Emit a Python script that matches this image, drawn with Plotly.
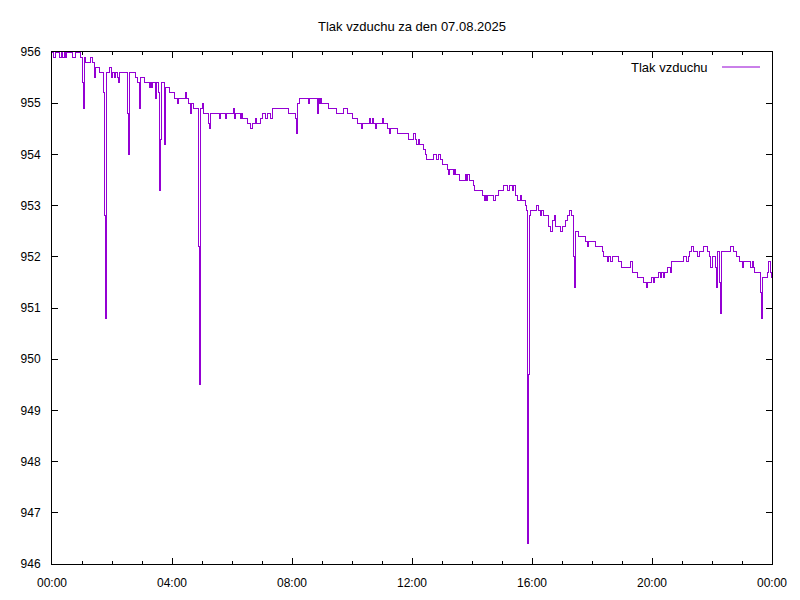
import plotly.graph_objects as go

DAY = "2025-08-07"
times = [
    "00:00", "00:02", "00:06", "00:14", "00:18", "00:20", "00:24", "00:26", "00:28", "00:40",
    "00:46", "00:56", "01:00", "01:02", "01:04", "01:06", "01:16", "01:20", "01:24", "01:26",
    "01:34", "01:42", "01:44", "01:46", "01:48", "01:54", "01:58", "02:00", "02:04", "02:06",
    "02:10", "02:12", "02:14", "02:30", "02:32", "02:34", "02:46", "02:50", "02:54", "02:56",
    "03:04", "03:14", "03:16", "03:18", "03:20", "03:26", "03:28", "03:32", "03:34", "03:36",
    "03:38", "03:44", "03:46", "03:54", "04:04", "04:10", "04:12", "04:26", "04:28", "04:32",
    "04:36", "04:38", "04:42", "04:52", "04:54", "04:56", "05:00", "05:02", "05:12", "05:14",
    "05:16", "05:34", "05:36", "05:46", "05:48", "06:02", "06:04", "06:06", "06:16", "06:18",
    "06:20", "06:30", "06:36", "06:40", "06:46", "06:48", "06:56", "07:00", "07:06", "07:10",
    "07:16", "07:20", "07:52", "08:06", "08:08", "08:10", "08:14", "08:32", "08:34", "08:50",
    "08:52", "08:54", "08:56", "08:58", "09:12", "09:28", "09:42", "09:50", "10:00", "10:10",
    "10:18", "10:20", "10:34", "10:36", "10:40", "10:42", "10:46", "10:48", "11:00", "11:02",
    "11:10", "11:14", "11:16", "11:30", "11:52", "12:02", "12:06", "12:08", "12:12", "12:14",
    "12:22", "12:26", "12:28", "12:42", "12:48", "12:52", "12:56", "13:00", "13:10", "13:12",
    "13:14", "13:22", "13:24", "13:26", "13:34", "13:46", "13:48", "13:50", "13:54", "14:02",
    "14:04", "14:20", "14:24", "14:26", "14:28", "14:30", "14:42", "14:46", "14:52", "15:02",
    "15:10", "15:14", "15:20", "15:22", "15:26", "15:30", "15:36", "15:38", "15:46", "15:48",
    "15:50", "15:52", "15:54", "15:56", "16:08", "16:12", "16:16", "16:18", "16:22", "16:32",
    "16:36", "16:40", "16:44", "16:46", "16:56", "17:00", "17:06", "17:10", "17:14", "17:18",
    "17:22", "17:24", "17:26", "17:32", "17:46", "17:50", "17:52", "18:06", "18:20", "18:22",
    "18:30", "18:32", "18:36", "18:40", "18:52", "18:58", "19:16", "19:20", "19:30", "19:42",
    "19:48", "19:50", "19:58", "20:02", "20:04", "20:12", "20:16", "20:18", "20:22", "20:24",
    "20:30", "20:36", "20:38", "21:02", "21:08", "21:12", "21:14", "21:18", "21:22", "21:30",
    "21:34", "21:42", "21:50", "21:54", "21:56", "22:00", "22:06", "22:08", "22:10", "22:14",
    "22:16", "22:18", "22:36", "22:42", "22:48", "22:54", "23:00", "23:02", "23:16", "23:20",
    "23:22", "23:24", "23:36", "23:38", "23:40", "23:50", "23:52", "23:56", "23:58", "23:59",
]
pressure = [
    956.0, 955.9, 956.0, 955.9, 956.0, 955.9, 956.0, 955.9, 956.0, 955.9,
    956.0, 955.9, 955.4, 954.9, 955.9, 955.8, 955.9, 955.8, 955.5, 955.7,
    955.6, 955.2, 952.8, 950.8, 955.6, 955.7, 955.5, 955.6, 955.5, 955.6,
    955.5, 955.4, 955.6, 954.8, 954.0, 955.6, 955.5, 955.4, 954.9, 955.5,
    955.4, 955.3, 955.4, 955.3, 955.4, 955.1, 955.4, 955.2, 953.3, 954.3,
    955.4, 954.2, 955.3, 955.2, 955.1, 955.0, 955.1, 955.2, 955.1, 955.0,
    954.8, 955.0, 954.9, 952.2, 949.5, 954.9, 955.0, 954.8, 954.6, 954.5,
    954.8, 954.7, 954.8, 954.7, 954.8, 954.9, 954.7, 954.8, 954.7, 954.8,
    954.7, 954.6, 954.5, 954.6, 954.7, 954.6, 954.7, 954.8, 954.7, 954.8,
    954.7, 954.9, 954.8, 954.7, 954.4, 955.0, 955.1, 955.0, 955.1, 954.8,
    955.1, 955.0, 955.1, 955.0, 954.9, 954.8, 954.9, 954.8, 954.7, 954.6,
    954.5, 954.6, 954.7, 954.6, 954.7, 954.6, 954.5, 954.6, 954.7, 954.6,
    954.5, 954.4, 954.5, 954.4, 954.3, 954.4, 954.3, 954.2, 954.3, 954.2,
    954.1, 954.0, 953.9, 954.0, 953.9, 954.0, 953.9, 953.8, 953.7, 953.6,
    953.7, 953.6, 953.7, 953.6, 953.5, 953.6, 953.5, 953.6, 953.5, 953.4,
    953.3, 953.2, 953.1, 953.2, 953.1, 953.2, 953.1, 953.2, 953.3, 953.4,
    953.3, 953.4, 953.3, 953.4, 953.2, 953.1, 953.2, 953.1, 953.0, 952.9,
    946.4, 949.7, 952.8, 952.9, 953.0, 952.9, 952.8, 952.9, 952.8, 952.6,
    952.5, 952.7, 952.8, 952.6, 952.5, 952.6, 952.7, 952.8, 952.9, 952.8,
    952.0, 951.4, 952.5, 952.4, 952.3, 952.2, 952.3, 952.2, 952.1, 952.0,
    951.9, 952.0, 951.9, 952.0, 951.9, 951.8, 951.9, 951.7, 951.6, 951.5,
    951.4, 951.5, 951.6, 951.5, 951.6, 951.7, 951.6, 951.7, 951.6, 951.7,
    951.8, 951.7, 951.9, 952.0, 951.9, 952.0, 952.1, 952.2, 952.1, 952.0,
    952.1, 952.2, 952.1, 952.0, 951.8, 952.0, 951.8, 951.4, 952.1, 951.5,
    950.9, 952.1, 952.2, 952.1, 952.0, 951.9, 951.8, 951.9, 951.8, 951.9,
    951.8, 951.7, 951.3, 950.8, 951.6, 951.7, 951.9, 951.7, 951.6, 951.6,
]
y_ticks = [946, 947, 948, 949, 950, 951, 952, 953, 954, 955, 956]
series_name = "Tlak vzduchu"
title_text = "Tlak vzduchu za den 07.08.2025"

x_vals = [f"{DAY} {t}" for t in times]
color = "#9400D3"
font = "Liberation Sans, Arial, sans-serif"

fig = go.Figure()
fig.add_trace(go.Scatter(
    x=x_vals, y=pressure, mode="lines", line=dict(color=color, width=1, shape="hv"),
    name=series_name, showlegend=False,
))

# page has an 8px body margin, so the figure is laid out 8px up/left
fig.update_layout(
    width=800, height=600,
    margin=dict(l=44, r=36, t=44, b=44),
    paper_bgcolor="white", plot_bgcolor="white",
    font=dict(family=font, size=12, color="black"),
    title=dict(text=title_text, x=404 / 800, xanchor="center", y=1 - 18 / 600,
               yanchor="middle", yref="container", xref="container",
               font=dict(family=font, size=13, color="black")),
)
fig.update_xaxes(
    type="date", range=[f"{DAY} 00:00", "2025-08-08 00:00"],
    dtick=4 * 3600000, tick0=f"{DAY} 00:00", tickformat="%H:%M",
    ticks="inside", ticklen=6, tickcolor="black", showgrid=False, zeroline=False,
    showline=True, linecolor="black", linewidth=1, mirror="ticks",
    minor=dict(dtick=3600000, ticks="inside", ticklen=3, tickcolor="black", showgrid=False),
    tickfont=dict(family=font, size=12, color="black"),
    ticklabelstandoff=8,
)
fig.update_yaxes(
    range=[946, 956], tickvals=y_ticks, ticktext=[str(v) for v in y_ticks],
    ticks="inside", ticklen=6, tickcolor="black", showgrid=False, zeroline=False,
    showline=True, linecolor="black", linewidth=1, mirror="ticks",
    tickfont=dict(family=font, size=12, color="black"),
    ticklabelstandoff=8,
)

# key (gnuplot style: text left of sample line)
fig.add_annotation(x=(710 - 52) / 720, y=(564 - 67) / 512, xref="paper", yref="paper",
                   text=series_name, showarrow=False, xanchor="right", yanchor="middle",
                   font=dict(family=font, size=13, color="black"))
fig.add_shape(type="line", xref="paper", yref="paper",
              x0=(722 - 52) / 720, x1=(760 - 52) / 720,
              y0=(564 - 67) / 512, y1=(564 - 67) / 512,
              line=dict(color=color, width=1))

crisp = ("var s=document.createElement('style');"
         "s.textContent='.js-line{shape-rendering:crispEdges}';"
         "document.head.appendChild(s);")
fig.write_html("out.html", post_script=crisp)
